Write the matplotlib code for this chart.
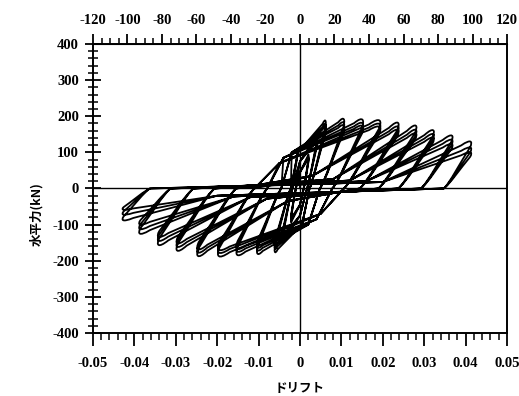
import numpy as np
import matplotlib.pyplot as plt
from matplotlib.path import Path
from matplotlib.patches import PathPatch
from matplotlib.ticker import MultipleLocator, FixedLocator

# Peak values of each loading level (drift, kN)
pos_drift = [0.0021, 0.0042, 0.0063, 0.0108, 0.0154, 0.0196, 0.0240, 0.0283, 0.0325, 0.0370, 0.0415]
pos_force_1st = [95, 150, 190, 195, 194, 192, 186, 178, 165, 150, 133]
pos_force_2nd = [88, 140, 180, 185, 184, 182, 175, 166, 154, 138, 116]
pos_force_3rd = [84, 133, 172, 177, 176, 174, 166, 156, 144, 126, 102]
neg_drift = [-0.0022, -0.0043, -0.0062, -0.0105, -0.0155, -0.0200, -0.0250, -0.0300, -0.0345, -0.0390, -0.0430]
neg_force_1st = [-95, -150, -178, -183, -187, -191, -191, -176, -160, -128, -90]
neg_force_2nd = [-88, -140, -168, -173, -177, -181, -181, -165, -148, -115, -74]
neg_force_3rd = [-84, -133, -160, -165, -169, -173, -172, -155, -137, -102, -60]

# drift lost on unloading from a peak down to zero force
unload_offset = [0.0012, 0.0025, 0.0040, 0.0060, 0.0076, 0.0090, 0.0096, 0.0094, 0.0088, 0.0078, 0.0068]

# pinching point of the reloading branch (drift, kN)
pinch_pos_drift = [0.0, 0.0, -0.0005, -0.002, -0.004, -0.005, 0.003, 0.008, 0.012, 0.016, 0.020]
pinch_pos_force = [45, 75, 100, 100, 85, 70, 35, 26, 22, 20, 18]
pinch_neg_drift = [0.0, 0.0, 0.0005, 0.002, 0.004, 0.005, -0.003, -0.008, -0.012, -0.016, -0.020]
pinch_neg_force = [-45, -75, -100, -100, -85, -70, -35, -28, -24, -22, -20]

x_ticks = [-0.05, -0.04, -0.03, -0.02, -0.01, 0, 0.01, 0.02, 0.03, 0.04, 0.05]
x_labels = ["-0.05", "-0.04", "-0.03", "-0.02", "-0.01", "0", "0.01", "0.02", "0.03", "0.04", "0.05"]
y_ticks = [400, 300, 200, 100, 0, -100, -200, -300, -400]
top_ticks = [-120, -100, -80, -60, -40, -20, 0, 20, 40, 60, 80, 100, 120]

# storey height in mm, top axis is displacement
height_mm = 2400.0


def add_excursion(verts, codes, px, pf, dx, df, u):
    """Pinched reloading, loading to the peak, rounded tip, unloading."""
    s = np.sign(df)
    verts.append((px, pf))
    codes.append(Path.LINETO)
    verts.append((px + 0.88 * (dx - px), pf + 0.88 * (df - pf)))
    codes.append(Path.LINETO)
    # rounded tip
    verts += [(dx - s * 0.02 * u, df * 1.04), (dx + s * 0.03 * u, df * 0.98),
              (dx - s * 0.06 * u, df * 0.86)]
    codes += [Path.CURVE4] * 3
    # unloading down to zero force, bending over near the axis
    verts += [(dx - s * 0.4 * u, 0.55 * df), (dx - s * 0.8 * u, 0.1 * df), (dx - s * u, 0.0)]
    codes += [Path.CURVE4] * 3


verts = [(0.0, 0.0)]
codes = [Path.MOVETO]
for i in range(len(pos_drift)):
    cycles = ((pos_force_1st[i], neg_force_1st[i]),
              (pos_force_2nd[i], neg_force_2nd[i]),
              (pos_force_3rd[i], neg_force_3rd[i]))
    for fp, fn in cycles:
        add_excursion(verts, codes, pinch_pos_drift[i], pinch_pos_force[i],
                      pos_drift[i], fp, unload_offset[i])
        add_excursion(verts, codes, pinch_neg_drift[i], pinch_neg_force[i],
                      neg_drift[i], fn, unload_offset[i])

plt.rcParams['font.family'] = ['Liberation Serif', 'DejaVu Serif']

fig = plt.figure(figsize=(5.19, 3.96), dpi=100)
ax = fig.add_axes([0.179, 0.159, 0.798, 0.730])

ax.add_patch(PathPatch(Path(verts, codes), facecolor='none', edgecolor='black',
                       lw=1.3, joinstyle='round'))

ax.axhline(0, color='black', lw=1.0)
ax.axvline(0, color='black', lw=1.0)

ax.set_xlim(-0.05, 0.05)
ax.set_ylim(-400, 400)

ax.xaxis.set_major_locator(FixedLocator(x_ticks))
ax.set_xticklabels(x_labels)
ax.xaxis.set_minor_locator(MultipleLocator(0.002))
ax.yaxis.set_major_locator(FixedLocator(y_ticks))
ax.set_yticklabels([str(v) for v in y_ticks])
ax.yaxis.set_minor_locator(MultipleLocator(20))

for side in ['left', 'right', 'top', 'bottom']:
    ax.spines[side].set_linewidth(1.4)

ax.tick_params(axis='x', which='major', direction='out', length=9, width=1.3,
               labelsize=10.5, pad=8)
ax.tick_params(axis='x', which='minor', direction='out', length=5, width=1.1)
ax.tick_params(axis='y', which='major', direction='inout', length=12, width=1.3,
               labelsize=10.5, pad=4)
ax.tick_params(axis='y', which='minor', direction='inout', length=7, width=1.1)
for lab in ax.get_xticklabels() + ax.get_yticklabels():
    lab.set_fontweight('bold')

top = ax.secondary_xaxis('top', functions=(lambda d: d * height_mm, lambda m: m / height_mm))
top.set_xticks(top_ticks)
top.set_xticklabels([str(v) for v in top_ticks])
top.xaxis.set_minor_locator(MultipleLocator(5))
top.tick_params(axis='x', which='major', direction='out', length=7, width=1.3,
                labelsize=10.5, pad=5)
top.tick_params(axis='x', which='minor', direction='out', length=4, width=1.1)
for lab in top.get_xticklabels():
    lab.set_fontweight('bold')

cjk = ['Noto Sans CJK JP', 'DejaVu Sans']
ax.set_xlabel("ドリフト", family=cjk, fontsize=9, fontweight='bold')
ax.xaxis.set_label_coords(0.5, -0.17)
ax.set_ylabel("水平力(kN)", family=cjk, fontsize=9, fontweight='bold')
ax.yaxis.set_label_coords(-0.12, 0.41)

fig.savefig("out.png", dpi=100)
